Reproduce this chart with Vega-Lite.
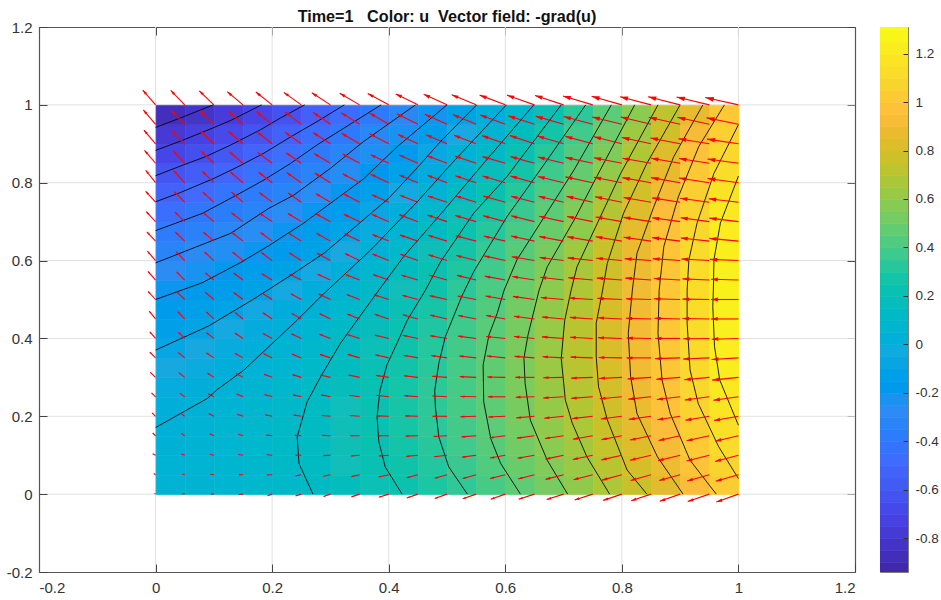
{"$schema":"https://vega.github.io/schema/vega-lite/v6.json","padding":{"left":5,"top":8,"right":0,"bottom":0},"background":"white","config":{"font":"Liberation Sans"},"datasets":{"heat":[
{"x":0.025,"y":0.025,"u":0.055},{"x":0.075,"y":0.025,"u":0.066},{"x":0.125,"y":0.025,"u":0.075},{"x":0.175,"y":0.025,"u":0.093},{"x":0.225,"y":0.025,"u":0.113},{"x":0.275,"y":0.025,"u":0.137},{"x":0.325,"y":0.025,"u":0.173},{"x":0.375,"y":0.025,"u":0.21},{"x":0.425,"y":0.025,"u":0.246},{"x":0.475,"y":0.025,"u":0.295},{"x":0.525,"y":0.025,"u":0.346},{"x":0.575,"y":0.025,"u":0.4},{"x":0.625,"y":0.025,"u":0.465},{"x":0.675,"y":0.025,"u":0.531},{"x":0.725,"y":0.025,"u":0.599},{"x":0.775,"y":0.025,"u":0.678},{"x":0.825,"y":0.025,"u":0.762},{"x":0.875,"y":0.025,"u":0.846},{"x":0.925,"y":0.025,"u":0.94},{"x":0.975,"y":0.025,"u":1.03},
{"x":0.025,"y":0.075,"u":0.045},{"x":0.075,"y":0.075,"u":0.059},{"x":0.125,"y":0.075,"u":0.075},{"x":0.175,"y":0.075,"u":0.098},{"x":0.225,"y":0.075,"u":0.118},{"x":0.275,"y":0.075,"u":0.146},{"x":0.325,"y":0.075,"u":0.184},{"x":0.375,"y":0.075,"u":0.221},{"x":0.425,"y":0.075,"u":0.262},{"x":0.475,"y":0.075,"u":0.312},{"x":0.525,"y":0.075,"u":0.369},{"x":0.575,"y":0.075,"u":0.43},{"x":0.625,"y":0.075,"u":0.495},{"x":0.675,"y":0.075,"u":0.56},{"x":0.725,"y":0.075,"u":0.626},{"x":0.775,"y":0.075,"u":0.708},{"x":0.825,"y":0.075,"u":0.8},{"x":0.875,"y":0.075,"u":0.885},{"x":0.925,"y":0.075,"u":0.987},{"x":0.975,"y":0.075,"u":1.072},
{"x":0.025,"y":0.125,"u":0.035},{"x":0.075,"y":0.125,"u":0.052},{"x":0.125,"y":0.125,"u":0.073},{"x":0.175,"y":0.125,"u":0.098},{"x":0.225,"y":0.125,"u":0.119},{"x":0.275,"y":0.125,"u":0.15},{"x":0.325,"y":0.125,"u":0.19},{"x":0.375,"y":0.125,"u":0.228},{"x":0.425,"y":0.125,"u":0.274},{"x":0.475,"y":0.125,"u":0.325},{"x":0.525,"y":0.125,"u":0.385},{"x":0.575,"y":0.125,"u":0.445},{"x":0.625,"y":0.125,"u":0.516},{"x":0.675,"y":0.125,"u":0.584},{"x":0.725,"y":0.125,"u":0.653},{"x":0.775,"y":0.125,"u":0.741},{"x":0.825,"y":0.125,"u":0.833},{"x":0.875,"y":0.125,"u":0.92},{"x":0.925,"y":0.125,"u":1.023},{"x":0.975,"y":0.125,"u":1.11},
{"x":0.025,"y":0.175,"u":0.025},{"x":0.075,"y":0.175,"u":0.046},{"x":0.125,"y":0.175,"u":0.07},{"x":0.175,"y":0.175,"u":0.093},{"x":0.225,"y":0.175,"u":0.117},{"x":0.275,"y":0.175,"u":0.149},{"x":0.325,"y":0.175,"u":0.19},{"x":0.375,"y":0.175,"u":0.231},{"x":0.425,"y":0.175,"u":0.281},{"x":0.475,"y":0.175,"u":0.335},{"x":0.525,"y":0.175,"u":0.395},{"x":0.575,"y":0.175,"u":0.455},{"x":0.625,"y":0.175,"u":0.527},{"x":0.675,"y":0.175,"u":0.6},{"x":0.725,"y":0.175,"u":0.678},{"x":0.775,"y":0.175,"u":0.764},{"x":0.825,"y":0.175,"u":0.86},{"x":0.875,"y":0.175,"u":0.951},{"x":0.925,"y":0.175,"u":1.047},{"x":0.975,"y":0.175,"u":1.143},
{"x":0.025,"y":0.225,"u":0.006},{"x":0.075,"y":0.225,"u":0.03},{"x":0.125,"y":0.225,"u":0.055},{"x":0.175,"y":0.225,"u":0.081},{"x":0.225,"y":0.225,"u":0.11},{"x":0.275,"y":0.225,"u":0.142},{"x":0.325,"y":0.225,"u":0.186},{"x":0.375,"y":0.225,"u":0.229},{"x":0.425,"y":0.225,"u":0.283},{"x":0.475,"y":0.225,"u":0.339},{"x":0.525,"y":0.225,"u":0.4},{"x":0.575,"y":0.225,"u":0.463},{"x":0.625,"y":0.225,"u":0.536},{"x":0.675,"y":0.225,"u":0.614},{"x":0.725,"y":0.225,"u":0.695},{"x":0.775,"y":0.225,"u":0.781},{"x":0.825,"y":0.225,"u":0.88},{"x":0.875,"y":0.225,"u":0.975},{"x":0.925,"y":0.225,"u":1.07},{"x":0.975,"y":0.225,"u":1.175},
{"x":0.025,"y":0.275,"u":-0.02},{"x":0.075,"y":0.275,"u":0.003},{"x":0.125,"y":0.275,"u":0.03},{"x":0.175,"y":0.275,"u":0.062},{"x":0.225,"y":0.275,"u":0.097},{"x":0.275,"y":0.275,"u":0.131},{"x":0.325,"y":0.275,"u":0.176},{"x":0.375,"y":0.275,"u":0.223},{"x":0.425,"y":0.275,"u":0.278},{"x":0.475,"y":0.275,"u":0.337},{"x":0.525,"y":0.275,"u":0.4},{"x":0.575,"y":0.275,"u":0.468},{"x":0.625,"y":0.275,"u":0.543},{"x":0.675,"y":0.275,"u":0.622},{"x":0.725,"y":0.275,"u":0.705},{"x":0.775,"y":0.275,"u":0.794},{"x":0.825,"y":0.275,"u":0.893},{"x":0.875,"y":0.275,"u":0.99},{"x":0.925,"y":0.275,"u":1.09},{"x":0.975,"y":0.275,"u":1.205},
{"x":0.025,"y":0.325,"u":-0.05},{"x":0.075,"y":0.325,"u":-0.024},{"x":0.125,"y":0.325,"u":0.005},{"x":0.175,"y":0.325,"u":0.04},{"x":0.225,"y":0.325,"u":0.077},{"x":0.275,"y":0.325,"u":0.115},{"x":0.325,"y":0.325,"u":0.162},{"x":0.375,"y":0.325,"u":0.212},{"x":0.425,"y":0.325,"u":0.269},{"x":0.475,"y":0.325,"u":0.33},{"x":0.525,"y":0.325,"u":0.398},{"x":0.575,"y":0.325,"u":0.467},{"x":0.625,"y":0.325,"u":0.544},{"x":0.675,"y":0.325,"u":0.625},{"x":0.725,"y":0.325,"u":0.711},{"x":0.775,"y":0.325,"u":0.803},{"x":0.825,"y":0.325,"u":0.902},{"x":0.875,"y":0.325,"u":1.002},{"x":0.925,"y":0.325,"u":1.105},{"x":0.975,"y":0.325,"u":1.225},
{"x":0.025,"y":0.375,"u":-0.08},{"x":0.075,"y":0.375,"u":-0.05},{"x":0.125,"y":0.375,"u":-0.02},{"x":0.175,"y":0.375,"u":0.013},{"x":0.225,"y":0.375,"u":0.051},{"x":0.275,"y":0.375,"u":0.095},{"x":0.325,"y":0.375,"u":0.142},{"x":0.375,"y":0.375,"u":0.196},{"x":0.425,"y":0.375,"u":0.254},{"x":0.475,"y":0.375,"u":0.32},{"x":0.525,"y":0.375,"u":0.393},{"x":0.575,"y":0.375,"u":0.46},{"x":0.625,"y":0.375,"u":0.539},{"x":0.675,"y":0.375,"u":0.624},{"x":0.725,"y":0.375,"u":0.713},{"x":0.775,"y":0.375,"u":0.808},{"x":0.825,"y":0.375,"u":0.906},{"x":0.875,"y":0.375,"u":1.009},{"x":0.925,"y":0.375,"u":1.115},{"x":0.975,"y":0.375,"u":1.235},
{"x":0.025,"y":0.425,"u":-0.116},{"x":0.075,"y":0.425,"u":-0.084},{"x":0.125,"y":0.425,"u":-0.052},{"x":0.175,"y":0.425,"u":-0.019},{"x":0.225,"y":0.425,"u":0.02},{"x":0.275,"y":0.425,"u":0.069},{"x":0.325,"y":0.425,"u":0.119},{"x":0.375,"y":0.425,"u":0.175},{"x":0.425,"y":0.425,"u":0.235},{"x":0.475,"y":0.425,"u":0.304},{"x":0.525,"y":0.425,"u":0.38},{"x":0.575,"y":0.425,"u":0.449},{"x":0.625,"y":0.425,"u":0.53},{"x":0.675,"y":0.425,"u":0.617},{"x":0.725,"y":0.425,"u":0.71},{"x":0.775,"y":0.425,"u":0.806},{"x":0.825,"y":0.425,"u":0.906},{"x":0.875,"y":0.425,"u":1.013},{"x":0.925,"y":0.425,"u":1.121},{"x":0.975,"y":0.425,"u":1.243},
{"x":0.025,"y":0.475,"u":-0.155},{"x":0.075,"y":0.475,"u":-0.123},{"x":0.125,"y":0.475,"u":-0.091},{"x":0.175,"y":0.475,"u":-0.057},{"x":0.225,"y":0.475,"u":-0.012},{"x":0.275,"y":0.475,"u":0.036},{"x":0.325,"y":0.475,"u":0.092},{"x":0.375,"y":0.475,"u":0.149},{"x":0.425,"y":0.475,"u":0.212},{"x":0.475,"y":0.475,"u":0.283},{"x":0.525,"y":0.475,"u":0.36},{"x":0.575,"y":0.475,"u":0.432},{"x":0.625,"y":0.475,"u":0.515},{"x":0.675,"y":0.475,"u":0.604},{"x":0.725,"y":0.475,"u":0.7},{"x":0.775,"y":0.475,"u":0.798},{"x":0.825,"y":0.475,"u":0.902},{"x":0.875,"y":0.475,"u":1.012},{"x":0.925,"y":0.475,"u":1.123},{"x":0.975,"y":0.475,"u":1.248},
{"x":0.025,"y":0.525,"u":-0.2},{"x":0.075,"y":0.525,"u":-0.17},{"x":0.125,"y":0.525,"u":-0.136},{"x":0.175,"y":0.525,"u":-0.1},{"x":0.225,"y":0.525,"u":-0.052},{"x":0.275,"y":0.525,"u":-0.004},{"x":0.325,"y":0.525,"u":0.056},{"x":0.375,"y":0.525,"u":0.118},{"x":0.425,"y":0.525,"u":0.185},{"x":0.475,"y":0.525,"u":0.257},{"x":0.525,"y":0.525,"u":0.335},{"x":0.575,"y":0.525,"u":0.412},{"x":0.625,"y":0.525,"u":0.496},{"x":0.675,"y":0.525,"u":0.587},{"x":0.725,"y":0.525,"u":0.686},{"x":0.775,"y":0.525,"u":0.788},{"x":0.825,"y":0.525,"u":0.896},{"x":0.875,"y":0.525,"u":1.009},{"x":0.925,"y":0.525,"u":1.122},{"x":0.975,"y":0.525,"u":1.249},
{"x":0.025,"y":0.575,"u":-0.26},{"x":0.075,"y":0.575,"u":-0.22},{"x":0.125,"y":0.575,"u":-0.185},{"x":0.175,"y":0.575,"u":-0.147},{"x":0.225,"y":0.575,"u":-0.1},{"x":0.275,"y":0.575,"u":-0.053},{"x":0.325,"y":0.575,"u":0.01},{"x":0.375,"y":0.575,"u":0.08},{"x":0.425,"y":0.575,"u":0.155},{"x":0.475,"y":0.575,"u":0.228},{"x":0.525,"y":0.575,"u":0.305},{"x":0.575,"y":0.575,"u":0.387},{"x":0.625,"y":0.575,"u":0.473},{"x":0.675,"y":0.575,"u":0.564},{"x":0.725,"y":0.575,"u":0.667},{"x":0.775,"y":0.575,"u":0.776},{"x":0.825,"y":0.575,"u":0.888},{"x":0.875,"y":0.575,"u":1.001},{"x":0.925,"y":0.575,"u":1.12},{"x":0.975,"y":0.575,"u":1.246},
{"x":0.025,"y":0.625,"u":-0.32},{"x":0.075,"y":0.625,"u":-0.28},{"x":0.125,"y":0.625,"u":-0.24},{"x":0.175,"y":0.625,"u":-0.198},{"x":0.225,"y":0.625,"u":-0.15},{"x":0.275,"y":0.625,"u":-0.1},{"x":0.325,"y":0.625,"u":-0.036},{"x":0.375,"y":0.625,"u":0.035},{"x":0.425,"y":0.625,"u":0.115},{"x":0.475,"y":0.625,"u":0.191},{"x":0.525,"y":0.625,"u":0.272},{"x":0.575,"y":0.625,"u":0.357},{"x":0.625,"y":0.625,"u":0.444},{"x":0.675,"y":0.625,"u":0.534},{"x":0.725,"y":0.625,"u":0.638},{"x":0.775,"y":0.625,"u":0.757},{"x":0.825,"y":0.625,"u":0.876},{"x":0.875,"y":0.625,"u":0.989},{"x":0.925,"y":0.625,"u":1.108},{"x":0.975,"y":0.625,"u":1.237},
{"x":0.025,"y":0.675,"u":-0.386},{"x":0.075,"y":0.675,"u":-0.343},{"x":0.125,"y":0.675,"u":-0.3},{"x":0.175,"y":0.675,"u":-0.254},{"x":0.225,"y":0.675,"u":-0.2},{"x":0.275,"y":0.675,"u":-0.148},{"x":0.325,"y":0.675,"u":-0.09},{"x":0.375,"y":0.675,"u":-0.02},{"x":0.425,"y":0.675,"u":0.065},{"x":0.475,"y":0.675,"u":0.147},{"x":0.525,"y":0.675,"u":0.235},{"x":0.575,"y":0.675,"u":0.322},{"x":0.625,"y":0.675,"u":0.407},{"x":0.675,"y":0.675,"u":0.495},{"x":0.725,"y":0.675,"u":0.6},{"x":0.775,"y":0.675,"u":0.733},{"x":0.825,"y":0.675,"u":0.859},{"x":0.875,"y":0.675,"u":0.972},{"x":0.925,"y":0.675,"u":1.09},{"x":0.975,"y":0.675,"u":1.221},
{"x":0.025,"y":0.725,"u":-0.456},{"x":0.075,"y":0.725,"u":-0.41},{"x":0.125,"y":0.725,"u":-0.363},{"x":0.175,"y":0.725,"u":-0.313},{"x":0.225,"y":0.725,"u":-0.257},{"x":0.275,"y":0.725,"u":-0.2},{"x":0.325,"y":0.725,"u":-0.142},{"x":0.375,"y":0.725,"u":-0.074},{"x":0.425,"y":0.725,"u":0.009},{"x":0.475,"y":0.725,"u":0.098},{"x":0.525,"y":0.725,"u":0.19},{"x":0.575,"y":0.725,"u":0.279},{"x":0.625,"y":0.725,"u":0.368},{"x":0.675,"y":0.725,"u":0.457},{"x":0.725,"y":0.725,"u":0.56},{"x":0.775,"y":0.725,"u":0.7},{"x":0.825,"y":0.725,"u":0.829},{"x":0.875,"y":0.725,"u":0.945},{"x":0.925,"y":0.725,"u":1.067},{"x":0.975,"y":0.725,"u":1.197},
{"x":0.025,"y":0.775,"u":-0.53},{"x":0.075,"y":0.775,"u":-0.484},{"x":0.125,"y":0.775,"u":-0.43},{"x":0.175,"y":0.775,"u":-0.377},{"x":0.225,"y":0.775,"u":-0.318},{"x":0.275,"y":0.775,"u":-0.258},{"x":0.325,"y":0.775,"u":-0.194},{"x":0.375,"y":0.775,"u":-0.127},{"x":0.425,"y":0.775,"u":-0.053},{"x":0.475,"y":0.775,"u":0.044},{"x":0.525,"y":0.775,"u":0.137},{"x":0.575,"y":0.775,"u":0.229},{"x":0.625,"y":0.775,"u":0.324},{"x":0.675,"y":0.775,"u":0.42},{"x":0.725,"y":0.775,"u":0.52},{"x":0.775,"y":0.775,"u":0.652},{"x":0.825,"y":0.775,"u":0.788},{"x":0.875,"y":0.775,"u":0.908},{"x":0.925,"y":0.775,"u":1.043},{"x":0.975,"y":0.775,"u":1.166},
{"x":0.025,"y":0.825,"u":-0.607},{"x":0.075,"y":0.825,"u":-0.56},{"x":0.125,"y":0.825,"u":-0.505},{"x":0.175,"y":0.825,"u":-0.446},{"x":0.225,"y":0.825,"u":-0.384},{"x":0.275,"y":0.825,"u":-0.318},{"x":0.325,"y":0.825,"u":-0.25},{"x":0.375,"y":0.825,"u":-0.18},{"x":0.425,"y":0.825,"u":-0.109},{"x":0.475,"y":0.825,"u":-0.012},{"x":0.525,"y":0.825,"u":0.081},{"x":0.575,"y":0.825,"u":0.177},{"x":0.625,"y":0.825,"u":0.277},{"x":0.675,"y":0.825,"u":0.377},{"x":0.725,"y":0.825,"u":0.478},{"x":0.775,"y":0.825,"u":0.605},{"x":0.825,"y":0.825,"u":0.741},{"x":0.875,"y":0.825,"u":0.869},{"x":0.925,"y":0.825,"u":1.01},{"x":0.975,"y":0.825,"u":1.131},
{"x":0.025,"y":0.875,"u":-0.69},{"x":0.075,"y":0.875,"u":-0.64},{"x":0.125,"y":0.875,"u":-0.586},{"x":0.175,"y":0.875,"u":-0.522},{"x":0.225,"y":0.875,"u":-0.454},{"x":0.275,"y":0.875,"u":-0.381},{"x":0.325,"y":0.875,"u":-0.308},{"x":0.375,"y":0.875,"u":-0.235},{"x":0.425,"y":0.875,"u":-0.158},{"x":0.475,"y":0.875,"u":-0.07},{"x":0.525,"y":0.875,"u":0.028},{"x":0.575,"y":0.875,"u":0.122},{"x":0.625,"y":0.875,"u":0.224},{"x":0.675,"y":0.875,"u":0.329},{"x":0.725,"y":0.875,"u":0.432},{"x":0.775,"y":0.875,"u":0.553},{"x":0.825,"y":0.875,"u":0.688},{"x":0.875,"y":0.875,"u":0.828},{"x":0.925,"y":0.875,"u":0.971},{"x":0.975,"y":0.875,"u":1.094},
{"x":0.025,"y":0.925,"u":-0.777},{"x":0.075,"y":0.925,"u":-0.725},{"x":0.125,"y":0.925,"u":-0.67},{"x":0.175,"y":0.925,"u":-0.604},{"x":0.225,"y":0.925,"u":-0.534},{"x":0.275,"y":0.925,"u":-0.457},{"x":0.325,"y":0.925,"u":-0.381},{"x":0.375,"y":0.925,"u":-0.303},{"x":0.425,"y":0.925,"u":-0.221},{"x":0.475,"y":0.925,"u":-0.135},{"x":0.525,"y":0.925,"u":-0.038},{"x":0.575,"y":0.925,"u":0.064},{"x":0.625,"y":0.925,"u":0.168},{"x":0.675,"y":0.925,"u":0.277},{"x":0.725,"y":0.925,"u":0.385},{"x":0.775,"y":0.925,"u":0.504},{"x":0.825,"y":0.925,"u":0.637},{"x":0.875,"y":0.925,"u":0.78},{"x":0.925,"y":0.925,"u":0.924},{"x":0.975,"y":0.925,"u":1.054},
{"x":0.025,"y":0.975,"u":-0.866},{"x":0.075,"y":0.975,"u":-0.815},{"x":0.125,"y":0.975,"u":-0.757},{"x":0.175,"y":0.975,"u":-0.691},{"x":0.225,"y":0.975,"u":-0.621},{"x":0.275,"y":0.975,"u":-0.546},{"x":0.325,"y":0.975,"u":-0.467},{"x":0.375,"y":0.975,"u":-0.384},{"x":0.425,"y":0.975,"u":-0.297},{"x":0.475,"y":0.975,"u":-0.205},{"x":0.525,"y":0.975,"u":-0.103},{"x":0.575,"y":0.975,"u":0.001},{"x":0.625,"y":0.975,"u":0.109},{"x":0.675,"y":0.975,"u":0.219},{"x":0.725,"y":0.975,"u":0.335},{"x":0.775,"y":0.975,"u":0.455},{"x":0.825,"y":0.975,"u":0.586},{"x":0.875,"y":0.975,"u":0.727},{"x":0.925,"y":0.975,"u":0.868},{"x":0.975,"y":0.975,"u":1.011}
],
"arrows":[
{"x":0,"y":1,"a":-0.022,"b":1.038,"r":-41,"s":20},{"x":0.05,"y":1,"a":0.026,"b":1.037,"r":-44,"s":20},{"x":0.1,"y":1,"a":0.075,"b":1.036,"r":-47,"s":20},{"x":0.15,"y":1,"a":0.123,"b":1.034,"r":-49,"s":21},{"x":0.2,"y":1,"a":0.172,"b":1.033,"r":-52,"s":21},{"x":0.25,"y":1,"a":0.22,"b":1.032,"r":-55,"s":21},{"x":0.3,"y":1,"a":0.268,"b":1.031,"r":-57,"s":22},{"x":0.35,"y":1,"a":0.316,"b":1.03,"r":-59,"s":23},{"x":0.4,"y":1,"a":0.364,"b":1.029,"r":-62,"s":24},{"x":0.45,"y":1,"a":0.412,"b":1.028,"r":-64,"s":25},{"x":0.5,"y":1,"a":0.46,"b":1.027,"r":-66,"s":26},{"x":0.55,"y":1,"a":0.508,"b":1.026,"r":-67,"s":27},{"x":0.6,"y":1,"a":0.556,"b":1.025,"r":-69,"s":28},{"x":0.65,"y":1,"a":0.603,"b":1.025,"r":-70,"s":29},{"x":0.7,"y":1,"a":0.651,"b":1.024,"r":-72,"s":30},{"x":0.75,"y":1,"a":0.699,"b":1.023,"r":-73,"s":31},{"x":0.8,"y":1,"a":0.748,"b":1.022,"r":-74,"s":32},{"x":0.85,"y":1,"a":0.797,"b":1.021,"r":-75,"s":32},{"x":0.9,"y":1,"a":0.845,"b":1.021,"r":-75,"s":33},{"x":0.95,"y":1,"a":0.894,"b":1.02,"r":-76,"s":33},{"x":1,"y":1,"a":0.943,"b":1.019,"r":-77,"s":34},
{"x":0,"y":0.95,"a":-0.021,"b":0.987,"r":-40,"s":19},{"x":0.05,"y":0.95,"a":0.027,"b":0.986,"r":-43,"s":19},{"x":0.1,"y":0.95,"a":0.076,"b":0.985,"r":-45,"s":20},{"x":0.15,"y":0.95,"a":0.125,"b":0.984,"r":-48,"s":20},{"x":0.2,"y":0.95,"a":0.173,"b":0.983,"r":-50,"s":21},{"x":0.25,"y":0.95,"a":0.222,"b":0.982,"r":-53,"s":21},{"x":0.3,"y":0.95,"a":0.27,"b":0.981,"r":-55,"s":22},{"x":0.35,"y":0.95,"a":0.318,"b":0.98,"r":-58,"s":22},{"x":0.4,"y":0.95,"a":0.367,"b":0.979,"r":-60,"s":23},{"x":0.45,"y":0.95,"a":0.414,"b":0.977,"r":-63,"s":23},{"x":0.5,"y":0.95,"a":0.462,"b":0.976,"r":-65,"s":24},{"x":0.55,"y":0.95,"a":0.51,"b":0.975,"r":-67,"s":25},{"x":0.6,"y":0.95,"a":0.557,"b":0.974,"r":-69,"s":26},{"x":0.65,"y":0.95,"a":0.605,"b":0.972,"r":-71,"s":28},{"x":0.7,"y":0.95,"a":0.652,"b":0.971,"r":-73,"s":29},{"x":0.75,"y":0.95,"a":0.7,"b":0.97,"r":-75,"s":30},{"x":0.8,"y":0.95,"a":0.749,"b":0.969,"r":-76,"s":31},{"x":0.85,"y":0.95,"a":0.798,"b":0.969,"r":-76,"s":31},{"x":0.9,"y":0.95,"a":0.846,"b":0.968,"r":-77,"s":32},{"x":0.95,"y":0.95,"a":0.895,"b":0.968,"r":-77,"s":32},{"x":1,"y":0.95,"a":0.945,"b":0.967,"r":-78,"s":33},
{"x":0,"y":0.9,"a":-0.02,"b":0.935,"r":-41,"s":18},{"x":0.05,"y":0.9,"a":0.028,"b":0.934,"r":-44,"s":18},{"x":0.1,"y":0.9,"a":0.077,"b":0.933,"r":-46,"s":19},{"x":0.15,"y":0.9,"a":0.125,"b":0.932,"r":-49,"s":19},{"x":0.2,"y":0.9,"a":0.174,"b":0.931,"r":-51,"s":20},{"x":0.25,"y":0.9,"a":0.222,"b":0.93,"r":-54,"s":20},{"x":0.3,"y":0.9,"a":0.27,"b":0.929,"r":-57,"s":21},{"x":0.35,"y":0.9,"a":0.319,"b":0.927,"r":-59,"s":21},{"x":0.4,"y":0.9,"a":0.367,"b":0.926,"r":-62,"s":22},{"x":0.45,"y":0.9,"a":0.416,"b":0.924,"r":-64,"s":22},{"x":0.5,"y":0.9,"a":0.464,"b":0.923,"r":-67,"s":23},{"x":0.55,"y":0.9,"a":0.512,"b":0.922,"r":-69,"s":24},{"x":0.6,"y":0.9,"a":0.56,"b":0.921,"r":-70,"s":25},{"x":0.65,"y":0.9,"a":0.608,"b":0.921,"r":-72,"s":26},{"x":0.7,"y":0.9,"a":0.655,"b":0.92,"r":-73,"s":27},{"x":0.75,"y":0.9,"a":0.703,"b":0.919,"r":-75,"s":28},{"x":0.8,"y":0.9,"a":0.752,"b":0.918,"r":-76,"s":29},{"x":0.85,"y":0.9,"a":0.8,"b":0.916,"r":-78,"s":30},{"x":0.9,"y":0.9,"a":0.849,"b":0.915,"r":-79,"s":30},{"x":0.95,"y":0.9,"a":0.897,"b":0.913,"r":-81,"s":31},{"x":1,"y":0.9,"a":0.946,"b":0.912,"r":-82,"s":32},
{"x":0,"y":0.85,"a":-0.019,"b":0.883,"r":-41,"s":17},{"x":0.05,"y":0.85,"a":0.03,"b":0.882,"r":-44,"s":17},{"x":0.1,"y":0.85,"a":0.078,"b":0.881,"r":-46,"s":17},{"x":0.15,"y":0.85,"a":0.127,"b":0.879,"r":-49,"s":18},{"x":0.2,"y":0.85,"a":0.175,"b":0.878,"r":-52,"s":18},{"x":0.25,"y":0.85,"a":0.224,"b":0.877,"r":-55,"s":18},{"x":0.3,"y":0.85,"a":0.272,"b":0.875,"r":-58,"s":19},{"x":0.35,"y":0.85,"a":0.321,"b":0.874,"r":-61,"s":19},{"x":0.4,"y":0.85,"a":0.369,"b":0.872,"r":-64,"s":20},{"x":0.45,"y":0.85,"a":0.418,"b":0.871,"r":-67,"s":20},{"x":0.5,"y":0.85,"a":0.466,"b":0.869,"r":-70,"s":21},{"x":0.55,"y":0.85,"a":0.514,"b":0.868,"r":-72,"s":22},{"x":0.6,"y":0.85,"a":0.561,"b":0.867,"r":-73,"s":24},{"x":0.65,"y":0.85,"a":0.609,"b":0.867,"r":-75,"s":25},{"x":0.7,"y":0.85,"a":0.656,"b":0.866,"r":-76,"s":27},{"x":0.75,"y":0.85,"a":0.703,"b":0.865,"r":-78,"s":28},{"x":0.8,"y":0.85,"a":0.752,"b":0.864,"r":-79,"s":29},{"x":0.85,"y":0.85,"a":0.801,"b":0.863,"r":-79,"s":29},{"x":0.9,"y":0.85,"a":0.85,"b":0.863,"r":-80,"s":30},{"x":0.95,"y":0.85,"a":0.898,"b":0.862,"r":-81,"s":30},{"x":1,"y":0.85,"a":0.947,"b":0.861,"r":-82,"s":31},
{"x":0,"y":0.8,"a":-0.017,"b":0.832,"r":-39,"s":16},{"x":0.05,"y":0.8,"a":0.031,"b":0.831,"r":-42,"s":16},{"x":0.1,"y":0.8,"a":0.08,"b":0.83,"r":-45,"s":17},{"x":0.15,"y":0.8,"a":0.128,"b":0.828,"r":-49,"s":17},{"x":0.2,"y":0.8,"a":0.177,"b":0.827,"r":-52,"s":18},{"x":0.25,"y":0.8,"a":0.225,"b":0.826,"r":-55,"s":18},{"x":0.3,"y":0.8,"a":0.273,"b":0.825,"r":-58,"s":19},{"x":0.35,"y":0.8,"a":0.321,"b":0.823,"r":-61,"s":19},{"x":0.4,"y":0.8,"a":0.369,"b":0.822,"r":-64,"s":20},{"x":0.45,"y":0.8,"a":0.418,"b":0.82,"r":-67,"s":20},{"x":0.5,"y":0.8,"a":0.466,"b":0.819,"r":-70,"s":21},{"x":0.55,"y":0.8,"a":0.514,"b":0.818,"r":-72,"s":22},{"x":0.6,"y":0.8,"a":0.561,"b":0.817,"r":-73,"s":24},{"x":0.65,"y":0.8,"a":0.609,"b":0.817,"r":-75,"s":25},{"x":0.7,"y":0.8,"a":0.656,"b":0.816,"r":-76,"s":27},{"x":0.75,"y":0.8,"a":0.703,"b":0.815,"r":-78,"s":28},{"x":0.8,"y":0.8,"a":0.752,"b":0.814,"r":-79,"s":29},{"x":0.85,"y":0.8,"a":0.801,"b":0.813,"r":-79,"s":29},{"x":0.9,"y":0.8,"a":0.85,"b":0.813,"r":-80,"s":30},{"x":0.95,"y":0.8,"a":0.898,"b":0.812,"r":-81,"s":30},{"x":1,"y":0.8,"a":0.947,"b":0.811,"r":-82,"s":31},
{"x":0,"y":0.75,"a":-0.017,"b":0.778,"r":-42,"s":15},{"x":0.05,"y":0.75,"a":0.032,"b":0.777,"r":-45,"s":15},{"x":0.1,"y":0.75,"a":0.081,"b":0.776,"r":-47,"s":15},{"x":0.15,"y":0.75,"a":0.13,"b":0.776,"r":-50,"s":16},{"x":0.2,"y":0.75,"a":0.178,"b":0.775,"r":-52,"s":16},{"x":0.25,"y":0.75,"a":0.227,"b":0.774,"r":-55,"s":16},{"x":0.3,"y":0.75,"a":0.275,"b":0.772,"r":-58,"s":17},{"x":0.35,"y":0.75,"a":0.323,"b":0.771,"r":-62,"s":18},{"x":0.4,"y":0.75,"a":0.371,"b":0.769,"r":-65,"s":18},{"x":0.45,"y":0.75,"a":0.419,"b":0.768,"r":-69,"s":19},{"x":0.5,"y":0.75,"a":0.467,"b":0.766,"r":-72,"s":20},{"x":0.55,"y":0.75,"a":0.515,"b":0.766,"r":-73,"s":21},{"x":0.6,"y":0.75,"a":0.562,"b":0.766,"r":-74,"s":23},{"x":0.65,"y":0.75,"a":0.61,"b":0.765,"r":-75,"s":24},{"x":0.7,"y":0.75,"a":0.657,"b":0.765,"r":-76,"s":26},{"x":0.75,"y":0.75,"a":0.705,"b":0.765,"r":-77,"s":27},{"x":0.8,"y":0.75,"a":0.754,"b":0.764,"r":-78,"s":28},{"x":0.85,"y":0.75,"a":0.803,"b":0.762,"r":-79,"s":28},{"x":0.9,"y":0.75,"a":0.852,"b":0.761,"r":-81,"s":29},{"x":0.95,"y":0.75,"a":0.9,"b":0.76,"r":-82,"s":29},{"x":1,"y":0.75,"a":0.949,"b":0.759,"r":-83,"s":30},
{"x":0,"y":0.7,"a":-0.016,"b":0.726,"r":-43,"s":14},{"x":0.05,"y":0.7,"a":0.033,"b":0.725,"r":-46,"s":14},{"x":0.1,"y":0.7,"a":0.081,"b":0.724,"r":-49,"s":15},{"x":0.15,"y":0.7,"a":0.13,"b":0.723,"r":-53,"s":15},{"x":0.2,"y":0.7,"a":0.178,"b":0.722,"r":-56,"s":16},{"x":0.25,"y":0.7,"a":0.227,"b":0.721,"r":-59,"s":16},{"x":0.3,"y":0.7,"a":0.275,"b":0.72,"r":-62,"s":17},{"x":0.35,"y":0.7,"a":0.323,"b":0.719,"r":-64,"s":18},{"x":0.4,"y":0.7,"a":0.371,"b":0.719,"r":-67,"s":19},{"x":0.45,"y":0.7,"a":0.418,"b":0.718,"r":-69,"s":20},{"x":0.5,"y":0.7,"a":0.466,"b":0.717,"r":-72,"s":21},{"x":0.55,"y":0.7,"a":0.514,"b":0.716,"r":-73,"s":22},{"x":0.6,"y":0.7,"a":0.562,"b":0.715,"r":-75,"s":23},{"x":0.65,"y":0.7,"a":0.61,"b":0.715,"r":-76,"s":24},{"x":0.7,"y":0.7,"a":0.658,"b":0.714,"r":-78,"s":25},{"x":0.75,"y":0.7,"a":0.706,"b":0.713,"r":-79,"s":26},{"x":0.8,"y":0.7,"a":0.755,"b":0.712,"r":-80,"s":27},{"x":0.85,"y":0.7,"a":0.803,"b":0.711,"r":-81,"s":27},{"x":0.9,"y":0.7,"a":0.852,"b":0.71,"r":-81,"s":28},{"x":0.95,"y":0.7,"a":0.901,"b":0.71,"r":-82,"s":28},{"x":1,"y":0.7,"a":0.95,"b":0.709,"r":-83,"s":29},
{"x":0,"y":0.65,"a":-0.015,"b":0.674,"r":-43,"s":13},{"x":0.05,"y":0.65,"a":0.034,"b":0.673,"r":-46,"s":13},{"x":0.1,"y":0.65,"a":0.082,"b":0.673,"r":-49,"s":14},{"x":0.15,"y":0.65,"a":0.131,"b":0.672,"r":-52,"s":14},{"x":0.2,"y":0.65,"a":0.18,"b":0.672,"r":-55,"s":15},{"x":0.25,"y":0.65,"a":0.228,"b":0.671,"r":-58,"s":15},{"x":0.3,"y":0.65,"a":0.276,"b":0.67,"r":-61,"s":16},{"x":0.35,"y":0.65,"a":0.324,"b":0.669,"r":-64,"s":17},{"x":0.4,"y":0.65,"a":0.372,"b":0.667,"r":-67,"s":18},{"x":0.45,"y":0.65,"a":0.419,"b":0.666,"r":-70,"s":19},{"x":0.5,"y":0.65,"a":0.467,"b":0.665,"r":-73,"s":20},{"x":0.55,"y":0.65,"a":0.515,"b":0.664,"r":-75,"s":21},{"x":0.6,"y":0.65,"a":0.563,"b":0.663,"r":-76,"s":22},{"x":0.65,"y":0.65,"a":0.61,"b":0.663,"r":-78,"s":24},{"x":0.7,"y":0.65,"a":0.658,"b":0.662,"r":-79,"s":25},{"x":0.75,"y":0.65,"a":0.706,"b":0.661,"r":-81,"s":26},{"x":0.8,"y":0.65,"a":0.755,"b":0.661,"r":-82,"s":27},{"x":0.85,"y":0.65,"a":0.803,"b":0.66,"r":-83,"s":27},{"x":0.9,"y":0.65,"a":0.852,"b":0.659,"r":-83,"s":28},{"x":0.95,"y":0.65,"a":0.901,"b":0.658,"r":-84,"s":28},{"x":1,"y":0.65,"a":0.95,"b":0.657,"r":-85,"s":29},
{"x":0,"y":0.6,"a":-0.014,"b":0.624,"r":-41,"s":12},{"x":0.05,"y":0.6,"a":0.035,"b":0.623,"r":-44,"s":12},{"x":0.1,"y":0.6,"a":0.084,"b":0.622,"r":-48,"s":13},{"x":0.15,"y":0.6,"a":0.132,"b":0.622,"r":-51,"s":13},{"x":0.2,"y":0.6,"a":0.181,"b":0.621,"r":-55,"s":14},{"x":0.25,"y":0.6,"a":0.229,"b":0.62,"r":-58,"s":14},{"x":0.3,"y":0.6,"a":0.277,"b":0.619,"r":-61,"s":15},{"x":0.35,"y":0.6,"a":0.325,"b":0.618,"r":-64,"s":16},{"x":0.4,"y":0.6,"a":0.372,"b":0.617,"r":-67,"s":17},{"x":0.45,"y":0.6,"a":0.42,"b":0.616,"r":-70,"s":18},{"x":0.5,"y":0.6,"a":0.468,"b":0.615,"r":-73,"s":19},{"x":0.55,"y":0.6,"a":0.516,"b":0.613,"r":-75,"s":20},{"x":0.6,"y":0.6,"a":0.564,"b":0.612,"r":-77,"s":21},{"x":0.65,"y":0.6,"a":0.611,"b":0.61,"r":-80,"s":23},{"x":0.7,"y":0.6,"a":0.659,"b":0.608,"r":-82,"s":24},{"x":0.75,"y":0.6,"a":0.707,"b":0.607,"r":-84,"s":25},{"x":0.8,"y":0.6,"a":0.756,"b":0.606,"r":-85,"s":26},{"x":0.85,"y":0.6,"a":0.805,"b":0.605,"r":-85,"s":27},{"x":0.9,"y":0.6,"a":0.853,"b":0.605,"r":-86,"s":27},{"x":0.95,"y":0.6,"a":0.902,"b":0.604,"r":-86,"s":28},{"x":1,"y":0.6,"a":0.951,"b":0.603,"r":-87,"s":29},
{"x":0,"y":0.55,"a":-0.013,"b":0.572,"r":-42,"s":11},{"x":0.05,"y":0.55,"a":0.036,"b":0.571,"r":-46,"s":11},{"x":0.1,"y":0.55,"a":0.085,"b":0.569,"r":-50,"s":12},{"x":0.15,"y":0.55,"a":0.134,"b":0.568,"r":-55,"s":12},{"x":0.2,"y":0.55,"a":0.182,"b":0.566,"r":-59,"s":13},{"x":0.25,"y":0.55,"a":0.23,"b":0.565,"r":-63,"s":13},{"x":0.3,"y":0.55,"a":0.278,"b":0.565,"r":-65,"s":14},{"x":0.35,"y":0.55,"a":0.326,"b":0.564,"r":-67,"s":15},{"x":0.4,"y":0.55,"a":0.373,"b":0.564,"r":-70,"s":16},{"x":0.45,"y":0.55,"a":0.421,"b":0.563,"r":-72,"s":17},{"x":0.5,"y":0.55,"a":0.469,"b":0.563,"r":-74,"s":18},{"x":0.55,"y":0.55,"a":0.517,"b":0.562,"r":-76,"s":19},{"x":0.6,"y":0.55,"a":0.565,"b":0.56,"r":-78,"s":21},{"x":0.65,"y":0.55,"a":0.612,"b":0.559,"r":-81,"s":22},{"x":0.7,"y":0.55,"a":0.66,"b":0.557,"r":-83,"s":24},{"x":0.75,"y":0.55,"a":0.708,"b":0.556,"r":-85,"s":25},{"x":0.8,"y":0.55,"a":0.757,"b":0.555,"r":-86,"s":25},{"x":0.85,"y":0.55,"a":0.806,"b":0.555,"r":-86,"s":26},{"x":0.9,"y":0.55,"a":0.855,"b":0.554,"r":-87,"s":26},{"x":0.95,"y":0.55,"a":0.904,"b":0.553,"r":-87,"s":27},{"x":1,"y":0.55,"a":0.953,"b":0.552,"r":-88,"s":27},
{"x":0,"y":0.5,"a":-0.013,"b":0.521,"r":-43,"s":11},{"x":0.05,"y":0.5,"a":0.036,"b":0.52,"r":-47,"s":11},{"x":0.1,"y":0.5,"a":0.085,"b":0.519,"r":-50,"s":11},{"x":0.15,"y":0.5,"a":0.134,"b":0.518,"r":-54,"s":12},{"x":0.2,"y":0.5,"a":0.183,"b":0.516,"r":-57,"s":12},{"x":0.25,"y":0.5,"a":0.232,"b":0.515,"r":-61,"s":12},{"x":0.3,"y":0.5,"a":0.28,"b":0.514,"r":-64,"s":13},{"x":0.35,"y":0.5,"a":0.328,"b":0.513,"r":-67,"s":14},{"x":0.4,"y":0.5,"a":0.375,"b":0.512,"r":-71,"s":16},{"x":0.45,"y":0.5,"a":0.423,"b":0.511,"r":-74,"s":17},{"x":0.5,"y":0.5,"a":0.47,"b":0.51,"r":-77,"s":18},{"x":0.55,"y":0.5,"a":0.518,"b":0.509,"r":-79,"s":19},{"x":0.6,"y":0.5,"a":0.566,"b":0.509,"r":-81,"s":20},{"x":0.65,"y":0.5,"a":0.613,"b":0.508,"r":-82,"s":22},{"x":0.7,"y":0.5,"a":0.661,"b":0.505,"r":-84,"s":23},{"x":0.75,"y":0.5,"a":0.709,"b":0.504,"r":-86,"s":24},{"x":0.8,"y":0.5,"a":0.758,"b":0.503,"r":-87,"s":25},{"x":0.85,"y":0.5,"a":0.807,"b":0.502,"r":-88,"s":25},{"x":0.9,"y":0.5,"a":0.855,"b":0.502,"r":-88,"s":26},{"x":0.95,"y":0.5,"a":0.904,"b":0.501,"r":-89,"s":26},{"x":1,"y":0.5,"a":0.953,"b":0.5,"r":-90,"s":27},
{"x":0,"y":0.45,"a":-0.011,"b":0.47,"r":-40,"s":10},{"x":0.05,"y":0.45,"a":0.038,"b":0.469,"r":-44,"s":10},{"x":0.1,"y":0.45,"a":0.087,"b":0.468,"r":-48,"s":11},{"x":0.15,"y":0.45,"a":0.136,"b":0.467,"r":-52,"s":11},{"x":0.2,"y":0.45,"a":0.184,"b":0.466,"r":-56,"s":12},{"x":0.25,"y":0.45,"a":0.233,"b":0.465,"r":-60,"s":12},{"x":0.3,"y":0.45,"a":0.281,"b":0.464,"r":-63,"s":13},{"x":0.35,"y":0.45,"a":0.329,"b":0.463,"r":-67,"s":14},{"x":0.4,"y":0.45,"a":0.376,"b":0.462,"r":-70,"s":15},{"x":0.45,"y":0.45,"a":0.424,"b":0.461,"r":-74,"s":16},{"x":0.5,"y":0.45,"a":0.471,"b":0.46,"r":-77,"s":17},{"x":0.55,"y":0.45,"a":0.519,"b":0.459,"r":-79,"s":18},{"x":0.6,"y":0.45,"a":0.567,"b":0.459,"r":-81,"s":19},{"x":0.65,"y":0.45,"a":0.615,"b":0.457,"r":-82,"s":21},{"x":0.7,"y":0.45,"a":0.663,"b":0.455,"r":-84,"s":22},{"x":0.75,"y":0.45,"a":0.711,"b":0.454,"r":-86,"s":23},{"x":0.8,"y":0.45,"a":0.759,"b":0.453,"r":-87,"s":24},{"x":0.85,"y":0.45,"a":0.807,"b":0.452,"r":-88,"s":25},{"x":0.9,"y":0.45,"a":0.856,"b":0.452,"r":-88,"s":25},{"x":0.95,"y":0.45,"a":0.904,"b":0.451,"r":-89,"s":26},{"x":1,"y":0.45,"a":0.953,"b":0.45,"r":-90,"s":27},
{"x":0,"y":0.4,"a":-0.01,"b":0.417,"r":-41,"s":9},{"x":0.05,"y":0.4,"a":0.039,"b":0.416,"r":-46,"s":10},{"x":0.1,"y":0.4,"a":0.087,"b":0.415,"r":-51,"s":10},{"x":0.15,"y":0.4,"a":0.136,"b":0.414,"r":-55,"s":11},{"x":0.2,"y":0.4,"a":0.184,"b":0.413,"r":-60,"s":11},{"x":0.25,"y":0.4,"a":0.233,"b":0.412,"r":-65,"s":12},{"x":0.3,"y":0.4,"a":0.281,"b":0.411,"r":-68,"s":13},{"x":0.35,"y":0.4,"a":0.329,"b":0.41,"r":-71,"s":14},{"x":0.4,"y":0.4,"a":0.376,"b":0.409,"r":-75,"s":15},{"x":0.45,"y":0.4,"a":0.424,"b":0.408,"r":-78,"s":16},{"x":0.5,"y":0.4,"a":0.471,"b":0.407,"r":-81,"s":17},{"x":0.55,"y":0.4,"a":0.519,"b":0.406,"r":-82,"s":18},{"x":0.6,"y":0.4,"a":0.567,"b":0.405,"r":-83,"s":19},{"x":0.65,"y":0.4,"a":0.615,"b":0.405,"r":-84,"s":21},{"x":0.7,"y":0.4,"a":0.663,"b":0.404,"r":-86,"s":22},{"x":0.75,"y":0.4,"a":0.711,"b":0.403,"r":-87,"s":23},{"x":0.8,"y":0.4,"a":0.759,"b":0.402,"r":-88,"s":24},{"x":0.85,"y":0.4,"a":0.808,"b":0.401,"r":-89,"s":25},{"x":0.9,"y":0.4,"a":0.857,"b":0.4,"r":-90,"s":25},{"x":0.95,"y":0.4,"a":0.905,"b":0.399,"r":-91,"s":26},{"x":1,"y":0.4,"a":0.954,"b":0.398,"r":-92,"s":27},
{"x":0,"y":0.35,"a":-0.01,"b":0.365,"r":-45,"s":9},{"x":0.05,"y":0.35,"a":0.039,"b":0.364,"r":-49,"s":9},{"x":0.1,"y":0.35,"a":0.087,"b":0.363,"r":-54,"s":10},{"x":0.15,"y":0.35,"a":0.136,"b":0.362,"r":-58,"s":10},{"x":0.2,"y":0.35,"a":0.185,"b":0.361,"r":-63,"s":11},{"x":0.25,"y":0.35,"a":0.234,"b":0.36,"r":-67,"s":11},{"x":0.3,"y":0.35,"a":0.282,"b":0.359,"r":-70,"s":12},{"x":0.35,"y":0.35,"a":0.33,"b":0.359,"r":-72,"s":13},{"x":0.4,"y":0.35,"a":0.377,"b":0.358,"r":-75,"s":14},{"x":0.45,"y":0.35,"a":0.425,"b":0.357,"r":-78,"s":15},{"x":0.5,"y":0.35,"a":0.473,"b":0.356,"r":-81,"s":16},{"x":0.55,"y":0.35,"a":0.521,"b":0.355,"r":-82,"s":17},{"x":0.6,"y":0.35,"a":0.568,"b":0.355,"r":-83,"s":18},{"x":0.65,"y":0.35,"a":0.616,"b":0.354,"r":-85,"s":19},{"x":0.7,"y":0.35,"a":0.664,"b":0.353,"r":-86,"s":21},{"x":0.75,"y":0.35,"a":0.712,"b":0.352,"r":-88,"s":22},{"x":0.8,"y":0.35,"a":0.76,"b":0.351,"r":-89,"s":23},{"x":0.85,"y":0.35,"a":0.808,"b":0.35,"r":-90,"s":24},{"x":0.9,"y":0.35,"a":0.857,"b":0.348,"r":-91,"s":25},{"x":0.95,"y":0.35,"a":0.905,"b":0.347,"r":-92,"s":26},{"x":1,"y":0.35,"a":0.954,"b":0.346,"r":-93,"s":27},
{"x":0,"y":0.3,"a":-0.009,"b":0.313,"r":-46,"s":7},{"x":0.05,"y":0.3,"a":0.04,"b":0.312,"r":-51,"s":7},{"x":0.1,"y":0.3,"a":0.089,"b":0.311,"r":-57,"s":8},{"x":0.15,"y":0.3,"a":0.138,"b":0.31,"r":-62,"s":8},{"x":0.2,"y":0.3,"a":0.186,"b":0.308,"r":-68,"s":9},{"x":0.25,"y":0.3,"a":0.235,"b":0.307,"r":-73,"s":9},{"x":0.3,"y":0.3,"a":0.283,"b":0.306,"r":-76,"s":10},{"x":0.35,"y":0.3,"a":0.331,"b":0.306,"r":-78,"s":11},{"x":0.4,"y":0.3,"a":0.378,"b":0.305,"r":-81,"s":13},{"x":0.45,"y":0.3,"a":0.426,"b":0.304,"r":-83,"s":14},{"x":0.5,"y":0.3,"a":0.474,"b":0.303,"r":-86,"s":15},{"x":0.55,"y":0.3,"a":0.522,"b":0.302,"r":-87,"s":16},{"x":0.6,"y":0.3,"a":0.569,"b":0.301,"r":-88,"s":18},{"x":0.65,"y":0.3,"a":0.617,"b":0.3,"r":-90,"s":19},{"x":0.7,"y":0.3,"a":0.665,"b":0.299,"r":-91,"s":21},{"x":0.75,"y":0.3,"a":0.713,"b":0.298,"r":-92,"s":22},{"x":0.8,"y":0.3,"a":0.761,"b":0.297,"r":-93,"s":23},{"x":0.85,"y":0.3,"a":0.81,"b":0.296,"r":-94,"s":24},{"x":0.9,"y":0.3,"a":0.859,"b":0.295,"r":-94,"s":25},{"x":0.95,"y":0.3,"a":0.907,"b":0.294,"r":-95,"s":26},{"x":1,"y":0.3,"a":0.955,"b":0.293,"r":-96,"s":27},
{"x":0,"y":0.25,"a":-0.007,"b":0.26,"r":-46,"s":5},{"x":0.05,"y":0.25,"a":0.042,"b":0.259,"r":-52,"s":6},{"x":0.1,"y":0.25,"a":0.09,"b":0.258,"r":-58,"s":6},{"x":0.15,"y":0.25,"a":0.139,"b":0.257,"r":-65,"s":7},{"x":0.2,"y":0.25,"a":0.187,"b":0.256,"r":-71,"s":7},{"x":0.25,"y":0.25,"a":0.236,"b":0.255,"r":-77,"s":8},{"x":0.3,"y":0.25,"a":0.284,"b":0.255,"r":-79,"s":9},{"x":0.35,"y":0.25,"a":0.332,"b":0.254,"r":-81,"s":10},{"x":0.4,"y":0.25,"a":0.379,"b":0.254,"r":-83,"s":12},{"x":0.45,"y":0.25,"a":0.427,"b":0.253,"r":-85,"s":14},{"x":0.5,"y":0.25,"a":0.475,"b":0.252,"r":-87,"s":15},{"x":0.55,"y":0.25,"a":0.523,"b":0.251,"r":-88,"s":16},{"x":0.6,"y":0.25,"a":0.57,"b":0.25,"r":-90,"s":18},{"x":0.65,"y":0.25,"a":0.618,"b":0.249,"r":-91,"s":19},{"x":0.7,"y":0.25,"a":0.665,"b":0.247,"r":-93,"s":21},{"x":0.75,"y":0.25,"a":0.713,"b":0.246,"r":-94,"s":22},{"x":0.8,"y":0.25,"a":0.762,"b":0.245,"r":-95,"s":23},{"x":0.85,"y":0.25,"a":0.811,"b":0.244,"r":-96,"s":23},{"x":0.9,"y":0.25,"a":0.86,"b":0.243,"r":-96,"s":24},{"x":0.95,"y":0.25,"a":0.908,"b":0.242,"r":-97,"s":25},{"x":1,"y":0.25,"a":0.957,"b":0.241,"r":-98,"s":26},
{"x":0,"y":0.2,"a":-0.006,"b":0.209,"r":-45,"s":5},{"x":0.05,"y":0.2,"a":0.043,"b":0.208,"r":-52,"s":6},{"x":0.1,"y":0.2,"a":0.091,"b":0.207,"r":-60,"s":6},{"x":0.15,"y":0.2,"a":0.14,"b":0.205,"r":-67,"s":7},{"x":0.2,"y":0.2,"a":0.188,"b":0.204,"r":-75,"s":7},{"x":0.25,"y":0.2,"a":0.237,"b":0.203,"r":-82,"s":8},{"x":0.3,"y":0.2,"a":0.285,"b":0.202,"r":-84,"s":9},{"x":0.35,"y":0.2,"a":0.333,"b":0.202,"r":-85,"s":10},{"x":0.4,"y":0.2,"a":0.38,"b":0.201,"r":-87,"s":12},{"x":0.45,"y":0.2,"a":0.428,"b":0.201,"r":-88,"s":14},{"x":0.5,"y":0.2,"a":0.475,"b":0.2,"r":-90,"s":15},{"x":0.55,"y":0.2,"a":0.523,"b":0.199,"r":-91,"s":16},{"x":0.6,"y":0.2,"a":0.571,"b":0.198,"r":-93,"s":17},{"x":0.65,"y":0.2,"a":0.619,"b":0.196,"r":-94,"s":18},{"x":0.7,"y":0.2,"a":0.667,"b":0.195,"r":-96,"s":20},{"x":0.75,"y":0.2,"a":0.715,"b":0.194,"r":-97,"s":21},{"x":0.8,"y":0.2,"a":0.764,"b":0.193,"r":-98,"s":22},{"x":0.85,"y":0.2,"a":0.812,"b":0.192,"r":-98,"s":23},{"x":0.9,"y":0.2,"a":0.861,"b":0.191,"r":-99,"s":23},{"x":0.95,"y":0.2,"a":0.909,"b":0.19,"r":-99,"s":24},{"x":1,"y":0.2,"a":0.958,"b":0.189,"r":-100,"s":25},
{"x":0,"y":0.15,"a":-0.005,"b":0.157,"r":-47,"s":4},{"x":0.05,"y":0.15,"a":0.044,"b":0.156,"r":-55,"s":4},{"x":0.1,"y":0.15,"a":0.093,"b":0.155,"r":-63,"s":5},{"x":0.15,"y":0.15,"a":0.142,"b":0.154,"r":-70,"s":5},{"x":0.2,"y":0.15,"a":0.19,"b":0.152,"r":-78,"s":6},{"x":0.25,"y":0.15,"a":0.239,"b":0.151,"r":-86,"s":6},{"x":0.3,"y":0.15,"a":0.286,"b":0.151,"r":-87,"s":7},{"x":0.35,"y":0.15,"a":0.334,"b":0.15,"r":-89,"s":9},{"x":0.4,"y":0.15,"a":0.381,"b":0.15,"r":-90,"s":10},{"x":0.45,"y":0.15,"a":0.429,"b":0.149,"r":-92,"s":12},{"x":0.5,"y":0.15,"a":0.477,"b":0.148,"r":-93,"s":13},{"x":0.55,"y":0.15,"a":0.525,"b":0.147,"r":-94,"s":14},{"x":0.6,"y":0.15,"a":0.573,"b":0.145,"r":-96,"s":16},{"x":0.65,"y":0.15,"a":0.62,"b":0.144,"r":-97,"s":17},{"x":0.7,"y":0.15,"a":0.668,"b":0.143,"r":-99,"s":19},{"x":0.75,"y":0.15,"a":0.716,"b":0.141,"r":-100,"s":20},{"x":0.8,"y":0.15,"a":0.765,"b":0.14,"r":-101,"s":21},{"x":0.85,"y":0.15,"a":0.814,"b":0.139,"r":-101,"s":22},{"x":0.9,"y":0.15,"a":0.863,"b":0.138,"r":-102,"s":23},{"x":0.95,"y":0.15,"a":0.911,"b":0.137,"r":-102,"s":24},{"x":1,"y":0.15,"a":0.96,"b":0.136,"r":-103,"s":25},
{"x":0,"y":0.1,"a":-0.005,"b":0.104,"r":-62,"s":3},{"x":0.05,"y":0.1,"a":0.044,"b":0.103,"r":-68,"s":4},{"x":0.1,"y":0.1,"a":0.093,"b":0.102,"r":-73,"s":4},{"x":0.15,"y":0.1,"a":0.142,"b":0.102,"r":-79,"s":5},{"x":0.2,"y":0.1,"a":0.191,"b":0.101,"r":-84,"s":5},{"x":0.25,"y":0.1,"a":0.24,"b":0.1,"r":-90,"s":6},{"x":0.3,"y":0.1,"a":0.288,"b":0.099,"r":-91,"s":7},{"x":0.35,"y":0.1,"a":0.335,"b":0.098,"r":-92,"s":9},{"x":0.4,"y":0.1,"a":0.383,"b":0.098,"r":-94,"s":10},{"x":0.45,"y":0.1,"a":0.43,"b":0.097,"r":-95,"s":12},{"x":0.5,"y":0.1,"a":0.478,"b":0.096,"r":-97,"s":13},{"x":0.55,"y":0.1,"a":0.526,"b":0.095,"r":-98,"s":14},{"x":0.6,"y":0.1,"a":0.574,"b":0.093,"r":-99,"s":16},{"x":0.65,"y":0.1,"a":0.621,"b":0.092,"r":-100,"s":17},{"x":0.7,"y":0.1,"a":0.669,"b":0.09,"r":-101,"s":19},{"x":0.75,"y":0.1,"a":0.716,"b":0.089,"r":-102,"s":20},{"x":0.8,"y":0.1,"a":0.765,"b":0.088,"r":-103,"s":21},{"x":0.85,"y":0.1,"a":0.814,"b":0.087,"r":-103,"s":22},{"x":0.9,"y":0.1,"a":0.862,"b":0.086,"r":-104,"s":22},{"x":0.95,"y":0.1,"a":0.911,"b":0.085,"r":-104,"s":23},{"x":1,"y":0.1,"a":0.96,"b":0.084,"r":-105,"s":24},
{"x":0,"y":0.05,"a":-0.003,"b":0.053,"r":-56,"s":2},{"x":0.05,"y":0.05,"a":0.046,"b":0.052,"r":-65,"s":3},{"x":0.1,"y":0.05,"a":0.094,"b":0.051,"r":-74,"s":3},{"x":0.15,"y":0.05,"a":0.143,"b":0.05,"r":-83,"s":4},{"x":0.2,"y":0.05,"a":0.191,"b":0.049,"r":-92,"s":5},{"x":0.25,"y":0.05,"a":0.24,"b":0.047,"r":-101,"s":6},{"x":0.3,"y":0.05,"a":0.288,"b":0.046,"r":-102,"s":7},{"x":0.35,"y":0.05,"a":0.336,"b":0.045,"r":-103,"s":9},{"x":0.4,"y":0.05,"a":0.383,"b":0.044,"r":-104,"s":10},{"x":0.45,"y":0.05,"a":0.431,"b":0.042,"r":-105,"s":12},{"x":0.5,"y":0.05,"a":0.479,"b":0.041,"r":-106,"s":13},{"x":0.55,"y":0.05,"a":0.527,"b":0.04,"r":-106,"s":14},{"x":0.6,"y":0.05,"a":0.574,"b":0.04,"r":-106,"s":16},{"x":0.65,"y":0.05,"a":0.622,"b":0.039,"r":-105,"s":17},{"x":0.7,"y":0.05,"a":0.669,"b":0.038,"r":-105,"s":19},{"x":0.75,"y":0.05,"a":0.717,"b":0.037,"r":-105,"s":20},{"x":0.8,"y":0.05,"a":0.766,"b":0.036,"r":-105,"s":21},{"x":0.85,"y":0.05,"a":0.815,"b":0.035,"r":-105,"s":22},{"x":0.9,"y":0.05,"a":0.864,"b":0.035,"r":-106,"s":22},{"x":0.95,"y":0.05,"a":0.912,"b":0.034,"r":-106,"s":23},{"x":1,"y":0.05,"a":0.961,"b":0.033,"r":-106,"s":24},
{"x":0,"y":0,"a":-0.002,"b":0.002,"r":-56,"s":1},{"x":0.05,"y":0,"a":0.046,"b":0.001,"r":-66,"s":2},{"x":0.1,"y":0,"a":0.095,"b":0,"r":-77,"s":3},{"x":0.15,"y":0,"a":0.143,"b":-0.001,"r":-87,"s":4},{"x":0.2,"y":0,"a":0.192,"b":-0.004,"r":-98,"s":5},{"x":0.25,"y":0,"a":0.24,"b":-0.005,"r":-108,"s":6},{"x":0.3,"y":0,"a":0.288,"b":-0.006,"r":-108,"s":7},{"x":0.35,"y":0,"a":0.336,"b":-0.007,"r":-108,"s":9},{"x":0.4,"y":0,"a":0.383,"b":-0.008,"r":-109,"s":10},{"x":0.45,"y":0,"a":0.431,"b":-0.01,"r":-109,"s":12},{"x":0.5,"y":0,"a":0.479,"b":-0.011,"r":-109,"s":13},{"x":0.55,"y":0,"a":0.527,"b":-0.012,"r":-109,"s":14},{"x":0.6,"y":0,"a":0.575,"b":-0.013,"r":-109,"s":15},{"x":0.65,"y":0,"a":0.623,"b":-0.013,"r":-108,"s":16},{"x":0.7,"y":0,"a":0.671,"b":-0.014,"r":-108,"s":18},{"x":0.75,"y":0,"a":0.719,"b":-0.015,"r":-108,"s":19},{"x":0.8,"y":0,"a":0.768,"b":-0.016,"r":-108,"s":20},{"x":0.85,"y":0,"a":0.816,"b":-0.017,"r":-108,"s":21},{"x":0.9,"y":0,"a":0.865,"b":-0.018,"r":-108,"s":22},{"x":0.95,"y":0,"a":0.913,"b":-0.019,"r":-108,"s":23},{"x":1,"y":0,"a":0.962,"b":-0.02,"r":-108,"s":24}
],
"cont":[
{"c":1,"x":0,"y":0.942},{"c":1,"x":0.049,"y":0.97},{"c":1,"x":0.099,"y":1},
{"c":2,"x":0,"y":0.883},{"c":2,"x":0.043,"y":0.907},{"c":2,"x":0.086,"y":0.933},{"c":2,"x":0.129,"y":0.96},{"c":2,"x":0.182,"y":1},
{"c":3,"x":0,"y":0.818},{"c":3,"x":0.043,"y":0.843},{"c":3,"x":0.086,"y":0.867},{"c":3,"x":0.129,"y":0.897},{"c":3,"x":0.18,"y":0.936},{"c":3,"x":0.214,"y":0.966},{"c":3,"x":0.256,"y":1},
{"c":4,"x":0,"y":0.751},{"c":4,"x":0.043,"y":0.775},{"c":4,"x":0.1,"y":0.811},{"c":4,"x":0.14,"y":0.84},{"c":4,"x":0.186,"y":0.876},{"c":4,"x":0.232,"y":0.918},{"c":4,"x":0.277,"y":0.957},{"c":4,"x":0.324,"y":1},
{"c":5,"x":0,"y":0.677},{"c":5,"x":0.08,"y":0.721},{"c":5,"x":0.14,"y":0.769},{"c":5,"x":0.186,"y":0.807},{"c":5,"x":0.232,"y":0.85},{"c":5,"x":0.277,"y":0.897},{"c":5,"x":0.323,"y":0.94},{"c":5,"x":0.387,"y":1},
{"c":6,"x":0,"y":0.594},{"c":6,"x":0.129,"y":0.67},{"c":6,"x":0.194,"y":0.734},{"c":6,"x":0.237,"y":0.768},{"c":6,"x":0.3,"y":0.837},{"c":6,"x":0.357,"y":0.906},{"c":6,"x":0.446,"y":1},
{"c":7,"x":0,"y":0.5},{"c":7,"x":0.08,"y":0.543},{"c":7,"x":0.146,"y":0.595},{"c":7,"x":0.194,"y":0.638},{"c":7,"x":0.252,"y":0.694},{"c":7,"x":0.3,"y":0.747},{"c":7,"x":0.357,"y":0.81},{"c":7,"x":0.415,"y":0.893},{"c":7,"x":0.5,"y":1},
{"c":8,"x":0,"y":0.37},{"c":8,"x":0.091,"y":0.432},{"c":8,"x":0.166,"y":0.499},{"c":8,"x":0.232,"y":0.562},{"c":8,"x":0.29,"y":0.62},{"c":8,"x":0.345,"y":0.69},{"c":8,"x":0.4,"y":0.76},{"c":8,"x":0.45,"y":0.84},{"c":8,"x":0.489,"y":0.906},{"c":8,"x":0.551,"y":1},
{"c":9,"x":0,"y":0.171},{"c":9,"x":0.089,"y":0.246},{"c":9,"x":0.106,"y":0.269},{"c":9,"x":0.151,"y":0.318},{"c":9,"x":0.203,"y":0.391},{"c":9,"x":0.243,"y":0.447},{"c":9,"x":0.283,"y":0.507},{"c":9,"x":0.369,"y":0.627},{"c":9,"x":0.449,"y":0.751},{"c":9,"x":0.506,"y":0.846},{"c":9,"x":0.602,"y":1},
{"c":10,"x":0.27,"y":0},{"c":10,"x":0.246,"y":0.079},{"c":10,"x":0.243,"y":0.147},{"c":10,"x":0.26,"y":0.237},{"c":10,"x":0.283,"y":0.301},{"c":10,"x":0.317,"y":0.387},{"c":10,"x":0.383,"y":0.524},{"c":10,"x":0.426,"y":0.611},{"c":10,"x":0.489,"y":0.719},{"c":10,"x":0.563,"y":0.85},{"c":10,"x":0.649,"y":1},
{"c":11,"x":0.423,"y":0},{"c":11,"x":0.394,"y":0.07},{"c":11,"x":0.383,"y":0.135},{"c":11,"x":0.38,"y":0.199},{"c":11,"x":0.385,"y":0.267},{"c":11,"x":0.397,"y":0.332},{"c":11,"x":0.414,"y":0.387},{"c":11,"x":0.432,"y":0.447},{"c":11,"x":0.463,"y":0.524},{"c":11,"x":0.489,"y":0.597},{"c":11,"x":0.546,"y":0.722},{"c":11,"x":0.603,"y":0.816},{"c":11,"x":0.696,"y":1},
{"c":12,"x":0.535,"y":0},{"c":12,"x":0.503,"y":0.07},{"c":12,"x":0.486,"y":0.147},{"c":12,"x":0.48,"y":0.225},{"c":12,"x":0.479,"y":0.267},{"c":12,"x":0.486,"y":0.336},{"c":12,"x":0.497,"y":0.404},{"c":12,"x":0.525,"y":0.507},{"c":12,"x":0.546,"y":0.572},{"c":12,"x":0.603,"y":0.713},{"c":12,"x":0.66,"y":0.833},{"c":12,"x":0.738,"y":1},
{"c":13,"x":0.626,"y":0},{"c":13,"x":0.592,"y":0.079},{"c":13,"x":0.575,"y":0.143},{"c":13,"x":0.563,"y":0.237},{"c":13,"x":0.562,"y":0.332},{"c":13,"x":0.572,"y":0.409},{"c":13,"x":0.586,"y":0.464},{"c":13,"x":0.598,"y":0.524},{"c":13,"x":0.62,"y":0.602},{"c":13,"x":0.66,"y":0.696},{"c":13,"x":0.718,"y":0.833},{"c":13,"x":0.782,"y":1},
{"c":14,"x":0.707,"y":0},{"c":14,"x":0.672,"y":0.087},{"c":14,"x":0.643,"y":0.19},{"c":14,"x":0.634,"y":0.285},{"c":14,"x":0.632,"y":0.349},{"c":14,"x":0.639,"y":0.409},{"c":14,"x":0.658,"y":0.524},{"c":14,"x":0.672,"y":0.584},{"c":14,"x":0.718,"y":0.704},{"c":14,"x":0.763,"y":0.833},{"c":14,"x":0.822,"y":1},
{"c":15,"x":0.779,"y":0},{"c":15,"x":0.74,"y":0.096},{"c":15,"x":0.715,"y":0.182},{"c":15,"x":0.703,"y":0.242},{"c":15,"x":0.696,"y":0.349},{"c":15,"x":0.702,"y":0.447},{"c":15,"x":0.713,"y":0.524},{"c":15,"x":0.723,"y":0.584},{"c":15,"x":0.758,"y":0.696},{"c":15,"x":0.798,"y":0.824},{"c":15,"x":0.862,"y":1},
{"c":16,"x":0.843,"y":0},{"c":16,"x":0.809,"y":0.062},{"c":16,"x":0.775,"y":0.191},{"c":16,"x":0.76,"y":0.276},{"c":16,"x":0.756,"y":0.353},{"c":16,"x":0.756,"y":0.439},{"c":16,"x":0.767,"y":0.524},{"c":16,"x":0.775,"y":0.593},{"c":16,"x":0.803,"y":0.722},{"c":16,"x":0.843,"y":0.85},{"c":16,"x":0.9,"y":1},
{"c":17,"x":0.905,"y":0},{"c":17,"x":0.861,"y":0.096},{"c":17,"x":0.826,"y":0.207},{"c":17,"x":0.815,"y":0.302},{"c":17,"x":0.811,"y":0.413},{"c":17,"x":0.818,"y":0.524},{"c":17,"x":0.826,"y":0.619},{"c":17,"x":0.855,"y":0.739},{"c":17,"x":0.889,"y":0.867},{"c":17,"x":0.939,"y":1},
{"c":18,"x":0.962,"y":0},{"c":18,"x":0.917,"y":0.087},{"c":18,"x":0.883,"y":0.207},{"c":18,"x":0.869,"y":0.293},{"c":18,"x":0.862,"y":0.413},{"c":18,"x":0.864,"y":0.524},{"c":18,"x":0.872,"y":0.636},{"c":18,"x":0.897,"y":0.764},{"c":18,"x":0.932,"y":0.893},{"c":18,"x":0.976,"y":1},
{"c":19,"x":1,"y":0.04},{"c":19,"x":0.966,"y":0.122},{"c":19,"x":0.931,"y":0.233},{"c":19,"x":0.917,"y":0.319},{"c":19,"x":0.912,"y":0.439},{"c":19,"x":0.912,"y":0.524},{"c":19,"x":0.915,"y":0.602},{"c":19,"x":0.929,"y":0.696},{"c":19,"x":0.958,"y":0.824},{"c":19,"x":1,"y":0.949},
{"c":20,"x":1,"y":0.177},{"c":20,"x":0.968,"y":0.293},{"c":20,"x":0.959,"y":0.379},{"c":20,"x":0.956,"y":0.482},{"c":20,"x":0.957,"y":0.524},{"c":20,"x":0.958,"y":0.602},{"c":20,"x":0.969,"y":0.696},{"c":20,"x":1,"y":0.817}
],
"grid":[{"v":0},{"v":0.2},{"v":0.4},{"v":0.6},{"v":0.8},{"v":1}],
"bar":[{"v":-0.925},{"v":-0.875},{"v":-0.825},{"v":-0.775},{"v":-0.725},{"v":-0.675},{"v":-0.625},{"v":-0.575},{"v":-0.525},{"v":-0.475},{"v":-0.425},{"v":-0.375},{"v":-0.325},{"v":-0.275},{"v":-0.225},{"v":-0.175},{"v":-0.125},{"v":-0.075},{"v":-0.025},{"v":0.025},{"v":0.075},{"v":0.125},{"v":0.175},{"v":0.225},{"v":0.275},{"v":0.325},{"v":0.375},{"v":0.425},{"v":0.475},{"v":0.525},{"v":0.575},{"v":0.625},{"v":0.675},{"v":0.725},{"v":0.775},{"v":0.825},{"v":0.875},{"v":0.925},{"v":0.975},{"v":1.025},{"v":1.075},{"v":1.125},{"v":1.175},{"v":1.225},{"v":1.275},{"v":1.31}]},
"spacing":23,
"hconcat":[
{"width":816,"height":545,"title":{"text":"Time=1\u00a0\u00a0\u00a0Color: u\u00a0\u00a0Vector field: -grad(u)","fontSize":16.2,"fontWeight":"bold","color":"#111111","font":"Liberation Sans","offset":-5,"anchor":"middle"},
"layer":[
{"data":{"name":"grid"},"mark":{"type":"rule","color":"#e1e1e1","strokeWidth":1},"encoding":{"x":{"field":"v","type":"quantitative","scale":{"domain":[-0.2,1.2],"nice":false,"zero":false},"axis":null}}},
{"data":{"name":"grid"},"mark":{"type":"rule","color":"#e1e1e1","strokeWidth":1},"encoding":{"y":{"field":"v","type":"quantitative","scale":{"domain":[-0.2,1.2],"nice":false,"zero":false},"axis":null}}},
{"data":{"name":"heat"},"mark":{"type":"rect","binSpacing":0,"strokeWidth":0.6},"encoding":{"x":{"field":"x","type":"quantitative","bin":{"step":0.05,"extent":[0,1]},"scale":{"domain":[-0.2,1.2],"nice":false,"zero":false},"axis":{"orient":"bottom","title":null,"values":[-0.2,0,0.2,0.4,0.6,0.8,1,1.2],"labelExpr":"''+datum.value","labelFontSize":15,"labelColor":"#333333","grid":false,"domain":true,"domainColor":"#555555","domainWidth":1.2,"tickColor":"#444444","tickSize":-8,"labelPadding":16}},"y":{"field":"y","type":"quantitative","bin":{"step":0.05,"extent":[0,1]},"scale":{"domain":[-0.2,1.2],"nice":false,"zero":false},"axis":{"orient":"left","title":null,"values":[-0.2,0,0.2,0.4,0.6,0.8,1,1.2],"labelExpr":"''+datum.value","labelFontSize":15,"labelColor":"#333333","grid":false,"domain":true,"domainColor":"#555555","domainWidth":1.2,"tickColor":"#444444","tickSize":-8,"labelPadding":15}},"color":{"field":"u","type":"quantitative","scale":{"domain":[-0.94,-0.715,-0.49,-0.265,-0.04,0.185,0.41,0.635,0.7475,0.86,0.95,1.085,1.31],"range":["#3e26a8","#4741e5","#4269fe","#2d8cf3","#1ca9df","#12beb9","#4acb84","#9dc942","#c5c22a","#e6bb2d","#fdbd3c","#f9d62d","#f9fb15"]},"legend":null},"stroke":{"field":"u","type":"quantitative","scale":{"domain":[-0.94,-0.715,-0.49,-0.265,-0.04,0.185,0.41,0.635,0.7475,0.86,0.95,1.085,1.31],"range":["#3e26a8","#4741e5","#4269fe","#2d8cf3","#1ca9df","#12beb9","#4acb84","#9dc942","#c5c22a","#e6bb2d","#fdbd3c","#f9d62d","#f9fb15"]},"legend":null}}},
{"data":{"name":"cont"},"mark":{"type":"line","color":"#000000","strokeWidth":1,"opacity":0.85},"encoding":{"x":{"field":"x","type":"quantitative","axis":{"orient":"top","title":null,"labels":false,"grid":false,"domain":true,"domainColor":"#555555","domainWidth":1.2,"values":[-0.2,0,0.2,0.4,0.6,0.8,1,1.2],"tickColor":"#444444","tickSize":-8}},"y":{"field":"y","type":"quantitative","axis":{"orient":"right","title":null,"labels":false,"grid":false,"domain":true,"domainColor":"#555555","domainWidth":1.2,"values":[-0.2,0,0.2,0.4,0.6,0.8,1,1.2],"tickColor":"#444444","tickSize":-8}},"detail":{"field":"c"},"order":{"value":null}}},
{"data":{"name":"arrows"},"mark":{"type":"rule","color":"#ff0000","strokeWidth":1.1},"encoding":{"x":{"field":"x","type":"quantitative","axis":null},"y":{"field":"y","type":"quantitative","axis":null},"x2":{"field":"a"},"y2":{"field":"b"}}},
{"data":{"name":"arrows"},"mark":{"type":"point","filled":true,"color":"#ff0000","opacity":1,"shape":"M0,0L-0.28,1L0.28,1Z"},"encoding":{"x":{"field":"a","type":"quantitative","axis":null},"y":{"field":"b","type":"quantitative","axis":null},"angle":{"field":"r","type":"quantitative","scale":null},"size":{"field":"s","type":"quantitative","scale":{"type":"pow","exponent":2,"domain":[0,30],"range":[0,225]},"legend":null}}}
],"resolve":{"axis":{"x":"independent","y":"independent"},"scale":{"x":"shared","y":"shared"}}},
{"width":28,"height":545,"view":{"stroke":"#7f7f6a","strokeWidth":1},"data":{"name":"bar"},"mark":{"type":"rect","binSpacing":0,"clip":true,"strokeWidth":0.6},"encoding":{"y":{"field":"v","type":"quantitative","bin":{"step":0.05},"scale":{"domain":[-0.94,1.31],"nice":false,"zero":false},"axis":{"orient":"right","title":null,"values":[-0.8,-0.6,-0.4,-0.2,0,0.2,0.4,0.6,0.8,1,1.2],"labelExpr":"''+datum.value","labelFontSize":13.5,"labelColor":"#333333","grid":false,"domain":true,"domainColor":"#7f7f6a","tickColor":"#333333","tickSize":-5,"labelPadding":12,"zindex":1}},"color":{"field":"v","type":"quantitative","scale":{"domain":[-0.94,-0.715,-0.49,-0.265,-0.04,0.185,0.41,0.635,0.7475,0.86,0.95,1.085,1.31],"range":["#3e26a8","#4741e5","#4269fe","#2d8cf3","#1ca9df","#12beb9","#4acb84","#9dc942","#c5c22a","#e6bb2d","#fdbd3c","#f9d62d","#f9fb15"]},"legend":null},"stroke":{"field":"v","type":"quantitative","scale":{"domain":[-0.94,-0.715,-0.49,-0.265,-0.04,0.185,0.41,0.635,0.7475,0.86,0.95,1.085,1.31],"range":["#3e26a8","#4741e5","#4269fe","#2d8cf3","#1ca9df","#12beb9","#4acb84","#9dc942","#c5c22a","#e6bb2d","#fdbd3c","#f9d62d","#f9fb15"]},"legend":null}}}
]}
